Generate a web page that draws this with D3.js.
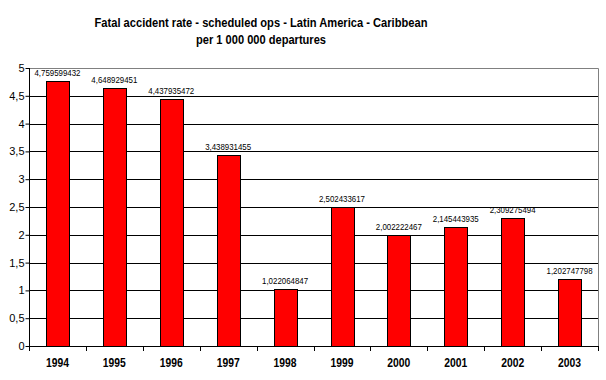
<!DOCTYPE html>
<html><head><meta charset="utf-8">
<script src="https://cdn.jsdelivr.net/npm/d3@7"></script>
<style>body{margin:0;background:#fff}svg{display:block}</style>
</head><body>
<svg id="c" width="606" height="380"></svg>
<script>
const years = ["1994","1995","1996","1997","1998","1999","2000","2001","2002","2003"];
const rates = [4.759599432,4.648929451,4.437935472,3.438931455,1.022064847,2.502433617,2.002222467,2.145443935,2.309275494,1.202747798];
const labels = ["4,759599432","4,648929451","4,437935472","3,438931455","1,022064847","2,502433617","2,002222467","2,145443935","2,309275494","1,202747798"];
const yTicks = [0,0.5,1,1.5,2,2.5,3,3.5,4,4.5,5];
const titleLines = ["Fatal accident rate - scheduled ops - Latin America - Caribbean","per 1 000 000 departures"];

const svg = d3.select("#c");
const L=29, R=598, T=68, B=346;
const x = d3.scaleBand().domain(years).range([L,R]).paddingInner(0.6).paddingOuter(0.3);
const y = d3.scaleLinear().domain([0,5]).range([B,T]);
const font = "'Liberation Sans', Arial, sans-serif";
const titleW = [333,130];

svg.selectAll("text.title").data(titleLines).join("text")
  .attr("x",261).attr("y",(d,i)=>27+i*17).attr("text-anchor","middle")
  .attr("font-family",font).attr("font-weight","bold").attr("font-size",13.5)
  .attr("textLength",(d,i)=>titleW[i]).attr("lengthAdjust","spacingAndGlyphs")
  .text(d=>d);

// gridlines
svg.selectAll("line.grid").data(yTicks.filter(v=>v>0 && v<5)).join("line")
  .attr("x1",L).attr("x2",R).attr("y1",d=>Math.round(y(d))+0.5).attr("y2",d=>Math.round(y(d))+0.5)
  .attr("stroke","#000").attr("stroke-width",1);
// plot border top/right
svg.append("path").attr("d",`M${L},${T+0.5}H${R+0.5}V${B}`).attr("fill","none").attr("stroke","#808080");

// bars
svg.selectAll("rect.bar").data(rates).join("rect")
  .attr("x",(d,i)=>Math.round(x(years[i]))+0.5).attr("width",Math.round(x.bandwidth()))
  .attr("y",d=>Math.round(y(d))+0.5).attr("height",d=>Math.round(B-y(d)))
  .attr("fill","#ff0000").attr("stroke","#000").attr("stroke-width",1);

svg.selectAll("text.val").data(rates).join("text")
  .attr("x",(d,i)=>x(years[i])+x.bandwidth()/2).attr("y",d=>y(d)-5)
  .attr("text-anchor","middle").attr("font-family",font).attr("font-size",9.5)
  .attr("textLength",46).attr("lengthAdjust","spacingAndGlyphs")
  .text((d,i)=>labels[i]);

// y axis
const yAxis = d3.axisLeft(y).tickValues(yTicks).tickSize(4).tickFormat(d=>String(d).replace(".",","));
const ga = svg.append("g").attr("transform",`translate(${L+0.5},0)`).call(yAxis);
ga.select(".domain").attr("d",`M0,${T}V${B}`).attr("stroke","#000");
ga.selectAll("text").attr("font-family",font).attr("font-size",11).attr("fill","#000").attr("x",-5);
ga.selectAll(".tick line").attr("stroke","#000");

// x axis
const xAxis = d3.axisBottom(x).tickSize(0);
const gx = svg.append("g").attr("transform",`translate(0,${B+0.5})`).call(xAxis);
gx.select(".domain").attr("d",`M${L},0H${R+0.5}`).attr("stroke","#000");
gx.selectAll("text").attr("font-family",font).attr("font-size",12).attr("font-weight","bold").attr("fill","#000").attr("dy","1.45em")
  .attr("textLength",23).attr("lengthAdjust","spacingAndGlyphs");
const step = (R-L)/years.length;
svg.selectAll("line.xt").data(d3.range(years.length+1)).join("line")
  .attr("x1",d=>Math.round(L+d*step)+0.5).attr("x2",d=>Math.round(L+d*step)+0.5)
  .attr("y1",B).attr("y2",B+5).attr("stroke","#000");
</script>
</body></html>
